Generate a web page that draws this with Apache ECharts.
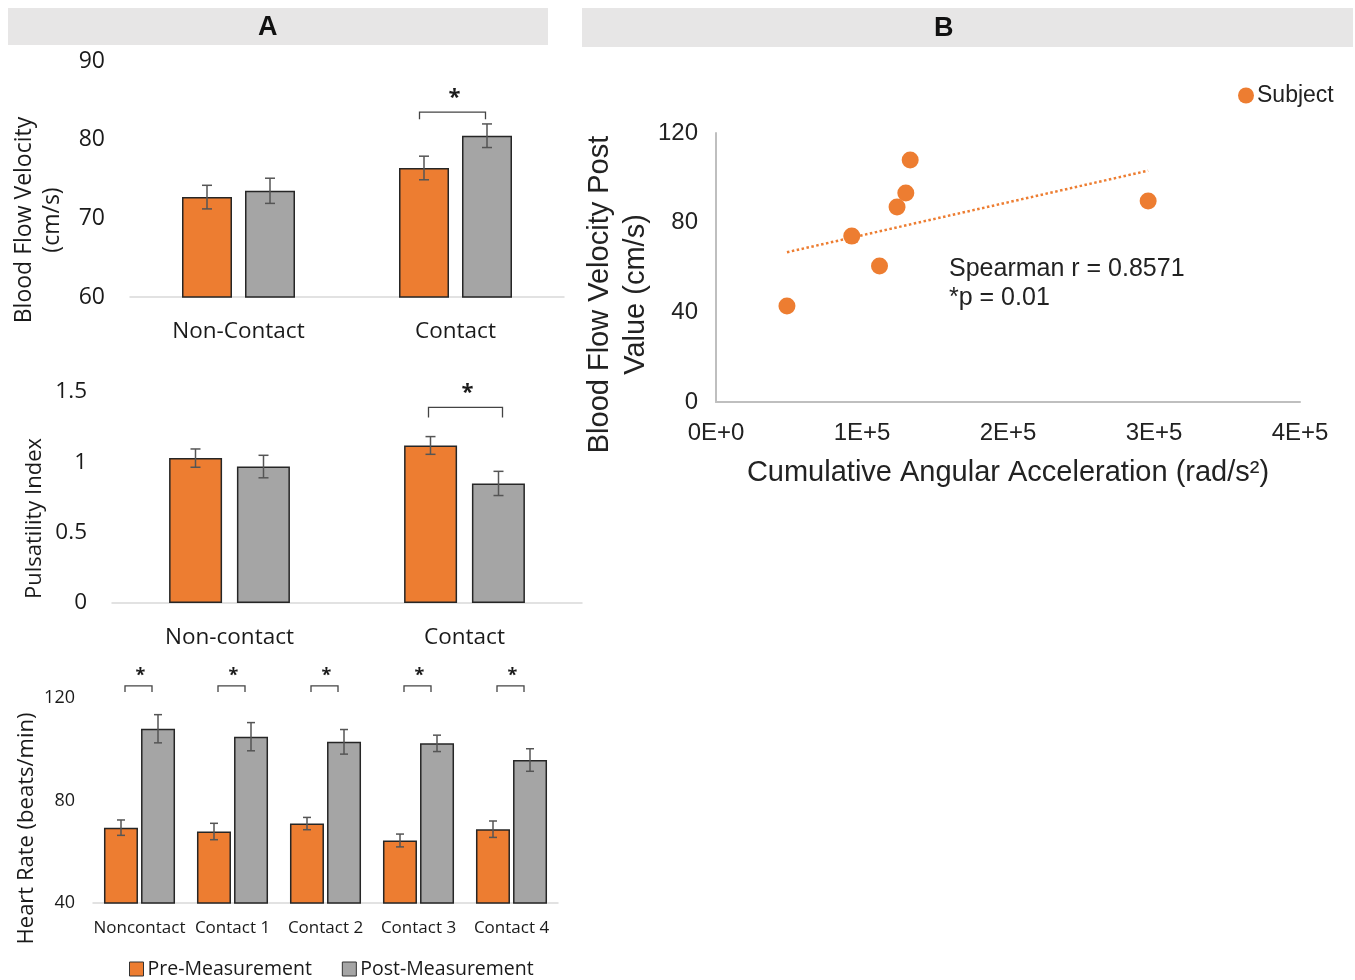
<!DOCTYPE html>
<html>
<head>
<meta charset="utf-8">
<script src="https://cdn.jsdelivr.net/npm/echarts@6/dist/echarts.min.js"></script>
<style>html,body{margin:0;padding:0;background:#fff}#c{width:1355px;height:980px}</style>
</head>
<body>
<div id="c"></div>
<script>
// ---- Data ----
const bfvCategories = ['Non-Contact', 'Contact'];
const bfvPre = [72.7, 76.4];
const bfvPreErr = [1.5, 1.5];
const bfvPost = [73.5, 80.5];
const bfvPostErr = [1.6, 1.5];
const bfvSig = [[1, 83.5]];

const piCategories = ['Non-contact', 'Contact'];
const piPre = [1.03, 1.12];
const piPreErr = [0.065, 0.063];
const piPost = [0.97, 0.85];
const piPostErr = [0.08, 0.086];
const piSig = [[1, 1.39]];

const hrCategories = ['Noncontact', 'Contact 1', 'Contact 2', 'Contact 3', 'Contact 4'];
const hrPre = [69.4, 67.9, 71.0, 64.4, 68.8];
const hrPreErr = [3.0, 3.2, 2.4, 2.5, 3.2];
const hrPost = [108.0, 104.9, 102.9, 102.3, 95.8];
const hrPostErr = [5.5, 5.5, 4.8, 3.2, 4.4];
const hrSig = [[0, 124.7], [1, 124.7], [2, 124.7], [3, 124.7], [4, 124.7]];

const accel = [48600, 93000, 112000, 124000, 130000, 133000, 296000];
const bfvPostValue = [42.8, 74.0, 60.7, 87.0, 93.2, 108.0, 89.7];
const statsText = ['Spearman r = 0.8571', '*p = 0.01'];

// ---- Helpers ----
const ORANGE = '#ED7D31', GRAY = '#A5A5A5', TXT = '#1a1a1a';
const FA = '"Open Sans", "Noto Sans", sans-serif';
const FB = '"Liberation Sans", Arial, sans-serif';

function errData(vals, errs) { return vals.map((v, i) => [i, v - errs[i], v + errs[i]]); }
function errRender(offsetPx, cap) {
  return function (params, api) {
    const lo = api.coord([api.value(0), api.value(1)]);
    const hi = api.coord([api.value(0), api.value(2)]);
    const x = lo[0] + offsetPx;
    const st = { stroke: '#555', lineWidth: 1.5 };
    return { type: 'group', children: [
      { type: 'line', shape: { x1: x, y1: lo[1], x2: x, y2: hi[1] }, style: st },
      { type: 'line', shape: { x1: x - cap, y1: lo[1], x2: x + cap, y2: lo[1] }, style: st },
      { type: 'line', shape: { x1: x - cap, y1: hi[1], x2: x + cap, y2: hi[1] }, style: st }
    ] };
  };
}
function bracketRender(halfW, leg, starSize, dx, starGap) {
  return function (params, api) {
    const p = api.coord([api.value(0), api.value(1)]);
    const x = p[0] + dx, y = p[1];
    return { type: 'group', children: [
      { type: 'polyline', shape: { points: [[x - halfW, y + leg], [x - halfW, y], [x + halfW, y], [x + halfW, y + leg]] },
        style: { stroke: '#444', lineWidth: 1.3, fill: null } },
      { type: 'text', style: { text: '*', x: x + 2, y: y - starGap, align: 'center', verticalAlign: 'bottom',
        fontSize: starSize, fontWeight: 'bold', fontFamily: FA, fill: TXT } }
    ] };
  };
}
function sci(v) {
  if (v === 0) return '0E+0';
  const e = Math.floor(Math.log10(Math.abs(v)));
  const m = Math.round(v / Math.pow(10, e));
  return m + 'E+' + e;
}
// linear trendline from data
const n = accel.length;
const mx = accel.reduce((a, b) => a + b, 0) / n;
const my = bfvPostValue.reduce((a, b) => a + b, 0) / n;
let sxy = 0, sxx = 0;
for (let i = 0; i < n; i++) { sxy += (accel[i] - mx) * (bfvPostValue[i] - my); sxx += (accel[i] - mx) ** 2; }
const slope = sxy / sxx, icpt = my - slope * mx;
const xMin = Math.min(...accel), xMax = Math.max(...accel);
const trend = [[xMin, icpt + slope * xMin], [xMax, icpt + slope * xMax]];

function barSeries(name, color, data, xi, barW, gap) {
  return { type: 'bar', name, xAxisIndex: xi, yAxisIndex: xi, data, barWidth: barW, barGap: gap,
    itemStyle: { color, borderColor: '#262626', borderWidth: 1.5 }, silent: true, z: 2 };
}
function errSeries(name, vals, errs, xi, off, cap) {
  return { type: 'custom', name, xAxisIndex: xi, yAxisIndex: xi, data: errData(vals, errs),
    renderItem: errRender(off, cap), encode: { x: 0, y: [1, 2] }, z: 5, silent: true };
}
function sigSeries(data, xi, halfW, leg, star, dx, starGap) {
  return { type: 'custom', name: 'sig', xAxisIndex: xi, yAxisIndex: xi, data, clip: false,
    renderItem: bracketRender(halfW, leg, star, dx, starGap), encode: { x: 0, y: 1 }, z: 5, silent: true };
}
function catAxis(gi, cats, fs, margin) {
  return { type: 'category', gridIndex: gi, data: cats,
    axisLine: { lineStyle: { color: '#d9d9d9', width: 1.5 } }, axisTick: { show: false },
    axisLabel: { fontSize: fs, fontFamily: FA, color: TXT, margin, interval: 0 } };
}
function valAxis(gi, min, max, interval, fs, margin, name, nameFs, nameGap, shift) {
  return { type: 'value', gridIndex: gi, min, max, interval,
    axisLine: { show: false }, axisTick: { show: false }, splitLine: { show: false },
    axisLabel: { fontSize: fs, fontFamily: FA, color: TXT, margin },
    name, nameLocation: 'middle', nameGap, nameRotate: 90,
    nameTextStyle: { fontSize: nameFs, fontFamily: FA, color: TXT, lineHeight: nameFs + 5, padding: [0, shift, 0, 0] } };
}

const chart = echarts.init(document.getElementById('c'), null, { renderer: 'canvas' });
chart.setOption({
  animation: false,
  backgroundColor: '#fff',
  graphic: [
    { type: 'rect', left: 8, top: 8, shape: { width: 540, height: 37 }, style: { fill: '#E7E6E6' } },
    { type: 'text', left: 258, top: 14, style: { text: 'A', fontSize: 27, fontWeight: 'bold', fontFamily: FB, fill: '#111' } },
    { type: 'rect', left: 582, top: 8, shape: { width: 771, height: 39 }, style: { fill: '#E7E6E6' } },
    { type: 'text', left: 934, top: 15, style: { text: 'B', fontSize: 27, fontWeight: 'bold', fontFamily: FB, fill: '#111' } },
    { type: 'text', left: 949, top: 255, style: { text: statsText.join('\n'), fontSize: 25, lineHeight: 29, fontFamily: FB, fill: '#222' } }
  ],
  legend: [
    { left: 124, top: 954, itemWidth: 14, itemHeight: 14, itemGap: 30, icon: 'rect',
      data: ['Pre-Measurement', 'Post-Measurement'],
      itemStyle: { borderColor: '#333', borderWidth: 1 },
      textStyle: { fontSize: 19.5, fontFamily: FA, color: TXT, padding: [0, 0, 0, -1] } },
    { left: 1233, top: 79, itemWidth: 16, itemHeight: 16, icon: 'circle', data: ['Subject'],
      itemGap: 4, textStyle: { fontSize: 23, fontFamily: FB, color: '#222', padding: [0, 0, 0, -2] } }
  ],
  grid: [
    { left: 130, top: 61, width: 434, height: 236 },
    { left: 112, top: 392, width: 470, height: 211 },
    { left: 93, top: 698, width: 465, height: 205 },
    { left: 716, top: 133, width: 584, height: 269 }
  ],
  xAxis: [
    catAxis(0, bfvCategories, 22.5, 23),
    catAxis(1, piCategories, 22.5, 23),
    catAxis(2, hrCategories, 17, 17),
    { type: 'value', gridIndex: 3, min: 0, max: 400000, interval: 100000,
      axisLine: { lineStyle: { color: '#bfbfbf', width: 2 } }, axisTick: { show: false }, splitLine: { show: false },
      axisLabel: { formatter: sci, fontSize: 24, fontFamily: FB, color: '#222', margin: 19 },
      name: 'Cumulative Angular Acceleration (rad/s²)', nameLocation: 'middle', nameGap: 56,
      nameTextStyle: { fontSize: 29, fontFamily: FB, color: '#222' } }
  ],
  yAxis: [
    valAxis(0, 60, 90, 10, 23, 25, 'Blood Flow Velocity\n(cm/s)', 23, 64, 82),
    valAxis(1, 0, 1.5, 0.5, 22.5, 25, 'Pulsatility Index', 22, 64, 42),
    valAxis(2, 40, 120, 40, 18, 18, 'Heart Rate (beats/min)', 22, 43, 56),
    { type: 'value', gridIndex: 3, min: 0, max: 120, interval: 40,
      axisLine: { show: true, lineStyle: { color: '#bfbfbf', width: 2 } }, axisTick: { show: false }, splitLine: { show: false },
      axisLabel: { fontSize: 24, fontFamily: FB, color: '#222', margin: 18 },
      name: 'Blood Flow Velocity Post\nValue (cm/s)', nameLocation: 'middle', nameGap: 59, nameRotate: 90,
      nameTextStyle: { fontSize: 29, fontFamily: FB, color: '#222', lineHeight: 36, padding: [0, 54, 0, 0] } }
  ],
  series: [
    barSeries('Pre-Measurement', ORANGE, bfvPre, 0, 50, '26%'),
    barSeries('Post-Measurement', GRAY, bfvPost, 0, 50, '26%'),
    errSeries('e1', bfvPre, bfvPreErr, 0, -31.5, 5),
    errSeries('e2', bfvPost, bfvPostErr, 0, 31.5, 5),
    sigSeries(bfvSig, 0, 33, 7, 22, -3, 3),

    barSeries('Pre-Measurement', ORANGE, piPre, 1, 53, '28%'),
    barSeries('Post-Measurement', GRAY, piPost, 1, 53, '28%'),
    errSeries('e3', piPre, piPreErr, 1, -34, 5),
    errSeries('e4', piPost, piPostErr, 1, 34, 5),
    sigSeries(piSig, 1, 37, 10, 22, 1, 4),

    barSeries('Pre-Measurement', ORANGE, hrPre, 2, 34, '9%'),
    barSeries('Post-Measurement', GRAY, hrPost, 2, 34, '9%'),
    errSeries('e5', hrPre, hrPreErr, 2, -18.5, 4),
    errSeries('e6', hrPost, hrPostErr, 2, 18.5, 4),
    sigSeries(hrSig, 2, 13.5, 6, 18, -1, 1),

    { type: 'line', name: 'trend', xAxisIndex: 3, yAxisIndex: 3, data: trend, symbol: 'none',
      lineStyle: { color: ORANGE, type: 'dotted', width: 2.5 }, silent: true, z: 2 },
    { type: 'scatter', name: 'Subject', xAxisIndex: 3, yAxisIndex: 3,
      data: accel.map((x, i) => [x, bfvPostValue[i]]), symbolSize: 17,
      itemStyle: { color: ORANGE, opacity: 1 }, z: 3 }
  ]
});
</script>
</body>
</html>
